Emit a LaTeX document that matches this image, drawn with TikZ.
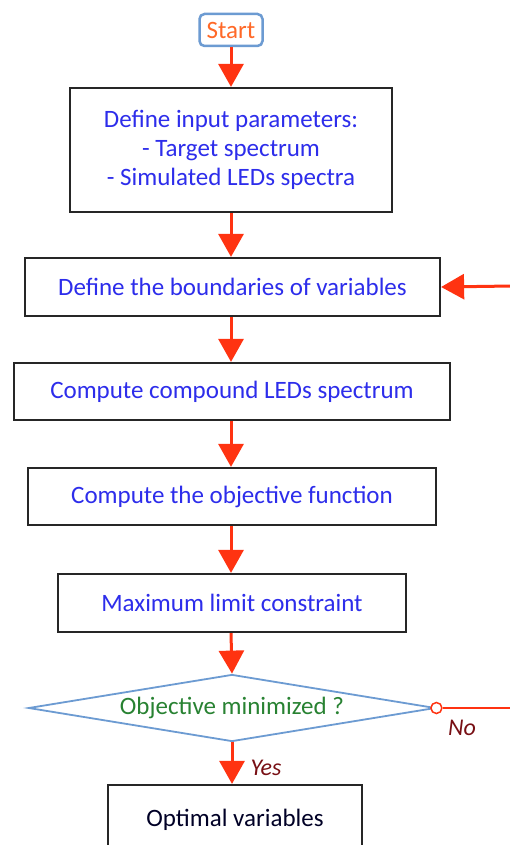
\documentclass[tikz,border=0pt]{standalone}
\usepackage{fontspec}
\setmainfont{Carlito}
\usetikzlibrary{arrows.meta,shapes.geometric,shadows}
\definecolor{boxblue}{RGB}{45,45,235}
\definecolor{arrowred}{RGB}{255,51,17}
\definecolor{startorange}{RGB}{255,105,40}
\definecolor{lightblue}{RGB}{108,155,210}
\definecolor{decgreen}{RGB}{40,130,50}
\definecolor{darkred}{RGB}{120,15,20}
\tikzset{
  stepbox/.style={draw=black!85,line width=2.2pt,fill=white,rectangle,inner sep=0pt,
    font=\fontsize{25}{29}\selectfont,text=boxblue,align=center,
    drop shadow={opacity=0.25,shadow xshift=1.2pt,shadow yshift=-1.2pt}},
  flow/.style={draw=arrowred,line width=3pt,-{Triangle[width=25pt,length=23pt]}},
  lbl/.style={font=\fontsize{24}{28}\selectfont\itshape,text=darkred,inner sep=0pt}
}
\begin{document}
\begin{tikzpicture}[x=1pt,y=-1pt]
\useasboundingbox (0,0) rectangle (510,845);
\clip (0,0) rectangle (510,845);
\fill[white] (0,0) rectangle (510,845);
\node[draw=lightblue,line width=2.5pt,rounded corners=5pt,fill=white,minimum width=63pt,minimum height=32pt,inner sep=0pt,
  font=\fontsize{25}{29}\selectfont,text=startorange] (start) at (231,30) {Start};
\node[stepbox,minimum width=322pt,minimum height=124pt] (b1) at (231,150)
  {Define input parameters:\\- Target spectrum\\- Simulated LEDs spectra};
\node[stepbox,minimum width=415pt,minimum height=58pt] (b2) at (232.5,287) {Define the boundaries of variables};
\node[stepbox,minimum width=436pt,minimum height=57pt] (b3) at (232,391.5) {Compute compound LEDs spectrum};
\node[stepbox,minimum width=408pt,minimum height=57pt] (b4) at (232,496.5) {Compute the objective function};
\node[stepbox,minimum width=348pt,minimum height=58pt] (b5) at (232,603) {Maximum limit constraint};
\node[diamond,draw=lightblue,line width=1.8pt,fill=white,aspect=6,inner sep=0pt,minimum width=407pt,minimum height=67pt,
  font=\fontsize{25}{29}\selectfont,text=decgreen] (dec) at (232,708) {Objective minimized ?};
\node[stepbox,minimum width=254pt,minimum height=76pt] (b6) at (235,823) {};
\node[font=\fontsize{25}{29}\selectfont,text=black!85!blue] (b6t) at (235,820) {Optimal variables};
\draw[flow] (start.south) -- (b1.north);
\draw[flow] (b1.south) -- (b1.south |- b2.north);
\draw[flow] (b2.south -| b1.south) -- (b1.south |- b3.north);
\draw[flow] (b3.south -| b1.south) -- (b1.south |- b4.north);
\draw[flow] (b4.south -| b1.south) -- (b1.south |- b5.north);
\draw[flow] (b5.south -| b1.south) -- (dec.north);
\draw[flow] (dec.south) -- (dec.south |- b6.north);
\coordinate (ein) at (512,286);
\draw[flow] (ein) -- (b2.east);
\node[circle,draw=arrowred,line width=1.5pt,fill=white,minimum size=11pt,inner sep=0pt] (dot) at (dec.east) {};
\coordinate (eout) at (512,708);
\draw[draw=arrowred,line width=2.5pt] (dot.east) -- (eout);
\node[lbl] (no) at (462,728) {No};
\node[lbl] (yes) at (266,768) {Yes};
\end{tikzpicture}
\end{document}
